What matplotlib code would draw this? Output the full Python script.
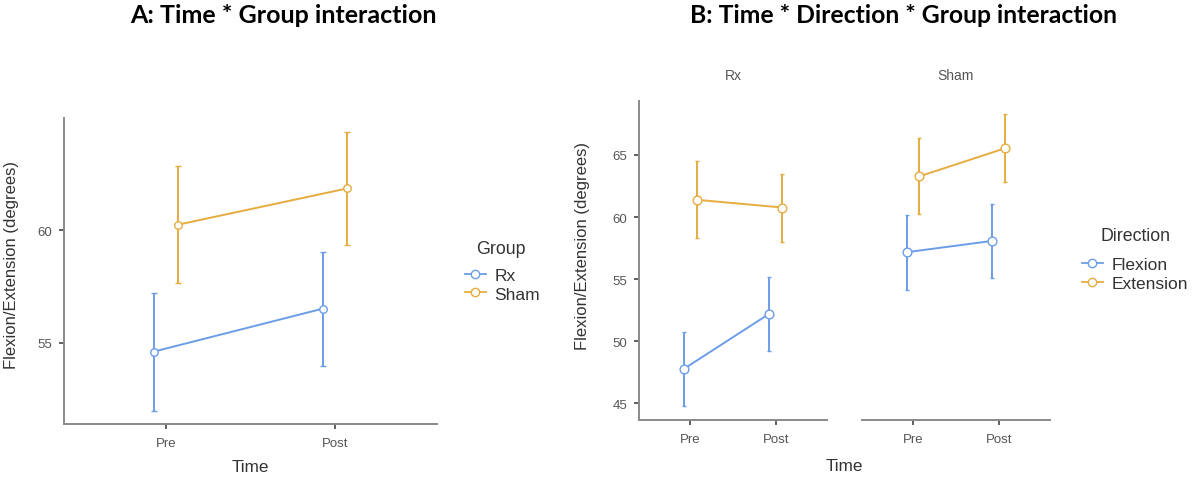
import matplotlib
matplotlib.use("Agg")
import matplotlib.pyplot as plt
from matplotlib.lines import Line2D
import numpy as np

# ---------------- data ----------------
time_labels = ["Pre", "Post"]

# Panel A: Time * Group
groups = ["Rx", "Sham"]
a_rx_mean = [54.60, 56.51]
a_rx_lo = [51.98, 53.98]
a_rx_hi = [57.22, 59.04]
a_sham_mean = [60.24, 61.85]
a_sham_lo = [57.63, 59.32]
a_sham_hi = [62.85, 64.36]

# Panel B: Time * Direction * Group
directions = ["Flexion", "Extension"]
facets = ["Rx", "Sham"]
b_rx_flex_mean = [47.79, 52.22]
b_rx_flex_lo = [44.78, 49.22]
b_rx_flex_hi = [50.77, 55.21]
b_rx_ext_mean = [61.39, 60.77]
b_rx_ext_lo = [58.31, 58.01]
b_rx_ext_hi = [64.49, 63.47]
b_sham_flex_mean = [57.17, 58.08]
b_sham_flex_lo = [54.16, 55.08]
b_sham_flex_hi = [60.13, 61.07]
b_sham_ext_mean = [63.28, 65.54]
b_sham_ext_lo = [60.21, 62.80]
b_sham_ext_hi = [66.37, 68.28]

a_yticks = [55, 60]
b_yticks = [45, 50, 55, 60, 65]

# ---------------- style ----------------
BLUE = "#6B9DE8"
ORANGE = "#E6AC40"
SPINE = "#8a8a8a"
TICKC = "#333333"
TXT = "#555555"
LAB = "#333333"
FONT = "Liberation Sans"
plt.rcParams["font.family"] = [FONT, "DejaVu Sans"]

W, H = 1198, 481
fig = plt.figure(figsize=(W / 100, H / 100), dpi=100)
fig.patch.set_facecolor("white")


def rect(l, r, t, b):
    return [l / W, 1 - b / H, (r - l) / W, (b - t) / H]


def style_axes(ax, show_y=True):
    for s in ["top", "right"]:
        ax.spines[s].set_visible(False)
    ax.spines["bottom"].set_color(SPINE)
    ax.spines["bottom"].set_linewidth(1.4)
    if show_y:
        ax.spines["left"].set_color(SPINE)
        ax.spines["left"].set_linewidth(1.4)
    else:
        ax.spines["left"].set_visible(False)
        ax.tick_params(axis="y", left=False, labelleft=False)
    ax.tick_params(axis="both", direction="out", length=3.5, width=1.1,
                   color=TICKC, labelcolor=TXT, labelsize=9.5)
    ax.tick_params(axis="x", pad=6)
    ax.tick_params(axis="y", pad=5)
    ax.set_xticks(range(len(time_labels)))
    ax.set_xticklabels(time_labels)
    ax.set_xlim(-0.6, 1.6)


def series(ax, mean, lo, hi, color, offset, ms, capsize, capthick):
    x = np.arange(len(mean)) + offset
    mean = np.asarray(mean)
    yerr = [mean - np.asarray(lo), np.asarray(hi) - mean]
    ax.errorbar(x, mean, yerr=yerr, color=color, lw=1.4, elinewidth=1.4,
                capsize=capsize, capthick=capthick, marker="o", ms=ms,
                mfc="white", mec=color, mew=1.0, zorder=3)


# ---------------- Panel A ----------------
axA = fig.add_axes(rect(64.3, 436.7, 119.3, 425))
style_axes(axA)
axA.set_ylim(51.39, 64.96)
axA.set_yticks(a_yticks)
series(axA, a_rx_mean, a_rx_lo, a_rx_hi, BLUE, -0.073, 5.4, 2.4, 1.6)
series(axA, a_sham_mean, a_sham_lo, a_sham_hi, ORANGE, 0.073, 5.4, 2.4, 1.6)
axA.set_ylabel("Flexion/Extension (degrees)", fontsize=12, color=LAB)
axA.yaxis.set_label_coords((19 - 64.3) / 372.4, (425 - 265) / 305.7)

# ---------------- Panel B ----------------
axB1 = fig.add_axes(rect(639.3, 827, 101.7, 421))
axB2 = fig.add_axes(rect(861.7, 1050, 101.7, 421))
style_axes(axB1)
style_axes(axB2, show_y=False)
for ax in (axB1, axB2):
    ax.set_ylim(43.66, 69.37)
    ax.set_yticks(b_yticks)
series(axB1, b_rx_flex_mean, b_rx_flex_lo, b_rx_flex_hi, BLUE, -0.075, 6.3, 1.2, 1.6)
series(axB1, b_rx_ext_mean, b_rx_ext_lo, b_rx_ext_hi, ORANGE, 0.075, 6.3, 1.2, 1.6)
series(axB2, b_sham_flex_mean, b_sham_flex_lo, b_sham_flex_hi, BLUE, -0.075, 6.3, 1.2, 1.6)
series(axB2, b_sham_ext_mean, b_sham_ext_lo, b_sham_ext_hi, ORANGE, 0.075, 6.3, 1.2, 1.6)
axB1.set_ylabel("Flexion/Extension (degrees)", fontsize=12, color=LAB)
axB1.yaxis.set_label_coords((590 - 639.3) / 187.7, (421 - 246) / 319.3)

axB1.set_title(facets[0], fontsize=10, color=TXT, pad=0, y=(421 - 80) / 319.3)
axB2.set_title(facets[1], fontsize=10, color=TXT, pad=0, y=(421 - 80) / 319.3)

# x labels
fig.text(250.5 / W, 1 - 468 / H, "Time", fontsize=12.3, color=LAB, ha="center", va="center")
fig.text(844.6 / W, 1 - 467 / H, "Time", fontsize=12.3, color=LAB, ha="center", va="center")

# ---------------- Titles ----------------
tA = fig.text(283.4 / W, 1 - 23 / H, "A: Time * Group interaction",
              fontsize=16, fontweight="bold", family=["Lato", "DejaVu Sans"],
              ha="center", va="baseline", color="black")
tB = fig.text(904 / W, 1 - 23 / H, "B: Time * Direction * Group interaction",
              fontsize=16, fontweight="bold", family=["Lato", "DejaVu Sans"],
              ha="center", va="baseline", color="black")
fig.canvas.draw()
r = fig.canvas.get_renderer()
for t, target in ((tA, 307.0), (tB, 430.0)):
    w = t.get_window_extent(r).width
    t.set_fontsize(t.get_fontsize() * target / w)


# ---------------- Legends ----------------
def make_legend(labels, title, x_left, y_mid, spacing, title_xy):
    handles = [Line2D([], [], color=c, lw=1.3, marker="o", ms=6, mfc="white",
                      mec=c, mew=1.0) for c in (BLUE, ORANGE)]
    leg = fig.legend(handles, labels, loc="center left",
                     bbox_to_anchor=(x_left / W, 1 - y_mid / H),
                     frameon=False, fontsize=12.5,
                     handlelength=1.2, handletextpad=0.5, labelspacing=spacing,
                     borderpad=0, borderaxespad=0)
    for tx in leg.get_texts():
        tx.set_color(LAB)
    fig.text(title_xy[0] / W, 1 - title_xy[1] / H, title, fontsize=12.8,
             color=LAB, ha="center", va="center")
    return leg


make_legend(groups, "Group", 465, 285.9, 0.17, (500.8, 250))
make_legend(directions, "Direction", 1082, 275, 0.27, (1135.4, 236.5))

fig.savefig("out.png", dpi=100, facecolor="white")
